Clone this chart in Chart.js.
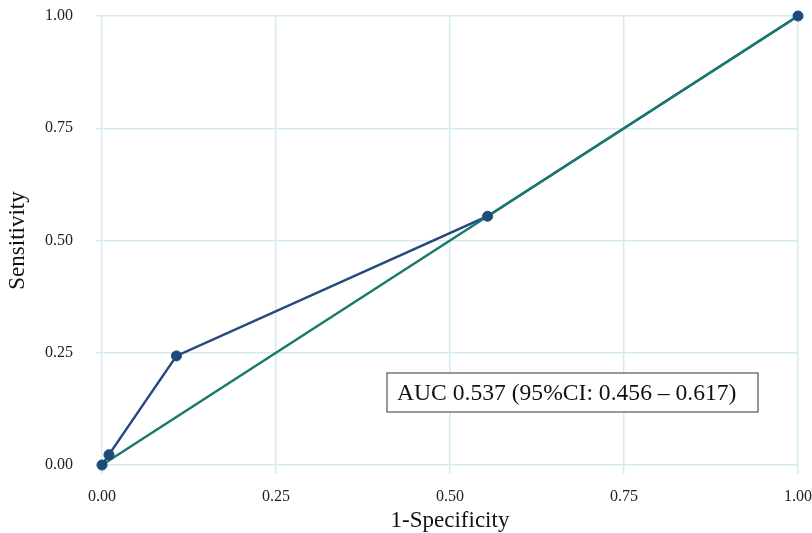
<!DOCTYPE html>
<html><head><meta charset="utf-8">
<script src="https://cdn.jsdelivr.net/npm/chart.js@4"></script>
<style>html,body{margin:0;padding:0;background:#fff}#wrap{width:812px;height:533px}</style>
</head><body><div id="wrap"><canvas id="c" width="812" height="533"></canvas></div>
<script>
const fpr = [0, 0.01, 0.107, 0.554, 1];
const tpr = [0, 0.023, 0.243, 0.554, 1];
const diagX = [0, 1];
const diagY = [0, 1];
const tickValues = [0, 0.25, 0.5, 0.75, 1];
const xTitle = '1-Specificity';
const yTitle = 'Sensitivity';
const aucText = 'AUC 0.537 (95%CI: 0.456 \u2013 0.617)';

const gridColor = '#d3ebf0';
const serif = "'Liberation Serif', 'DejaVu Serif', serif";

const aucBox = {
  id: 'aucBox',
  afterDatasetsDraw(chart) {
    const {ctx} = chart;
    const x = 387, y = 373, w = 371, h = 39;
    ctx.save();
    ctx.fillStyle = '#fff';
    ctx.fillRect(x, y, w, h);
    ctx.strokeStyle = '#555';
    ctx.lineWidth = 1.2;
    ctx.strokeRect(x, y, w, h);
    ctx.fillStyle = '#111';
    ctx.font = "23.6px " + serif;
    ctx.textBaseline = 'middle';
    ctx.textAlign = 'left';
    ctx.fillText(aucText, x + 10, y + h / 2 + 1);
    ctx.restore();
  }
};

const rocPoints = fpr.map((v, i) => ({x: v, y: tpr[i]}));
const noPad = s => { s.paddingTop = 0; s.paddingBottom = 0; s.paddingLeft = 0; s.paddingRight = 0; };

new Chart(document.getElementById('c'), {
  type: 'scatter',
  data: {
    datasets: [
      {
        label: 'ROC line',
        data: rocPoints,
        showLine: true,
        borderColor: '#24487f',
        borderWidth: 2.5,
        pointRadius: 0,
        clip: false,
        order: 3
      },
      {
        label: 'Reference',
        data: diagX.map((v, i) => ({x: v, y: diagY[i]})),
        showLine: true,
        borderColor: '#177a6c',
        borderWidth: 2.5,
        pointRadius: 0,
        clip: false,
        order: 2
      },
      {
        label: 'ROC points',
        data: rocPoints,
        showLine: false,
        backgroundColor: '#1d4a78',
        pointBackgroundColor: '#1d4a78',
        pointBorderColor: '#1d4a78',
        pointRadius: 5,
        clip: false,
        order: 1
      }
    ]
  },
  options: {
    responsive: false,
    animation: false,
    layout: {padding: {top: 16, right: 14, left: 0, bottom: 0}},
    plugins: {legend: {display: false}, tooltip: {enabled: false}},
    scales: {
      x: {
        type: 'linear', min: 0, max: 1,
        afterBuildTicks(s) { s.ticks = tickValues.map(v => ({value: v})); },
        afterFit(s) { s.height = 68; noPad(s); },
        grid: {color: gridColor, lineWidth: 1.5, tickLength: 9, tickColor: gridColor},
        border: {display: false},
        ticks: {padding: 13, color: '#222', font: {family: serif, size: 16}, callback: v => v.toFixed(2), maxRotation: 0},
        title: {display: true, text: xTitle, color: '#111', font: {family: serif, size: 23}, padding: {top: 0, bottom: -2}}
      },
      y: {
        type: 'linear', min: 0, max: 1,
        afterBuildTicks(s) { s.ticks = tickValues.map(v => ({value: v})); },
        afterFit(s) { s.width = 102; noPad(s); },
        grid: {color: gridColor, lineWidth: 1.5, tickLength: 6, tickColor: gridColor},
        border: {display: false},
        ticks: {padding: 23, color: '#222', font: {family: serif, size: 16}, callback: v => v.toFixed(2)},
        title: {display: true, text: yTitle, color: '#111', font: {family: serif, size: 23}, padding: {top: 4, bottom: 0}}
      }
    }
  },
  plugins: [aucBox]
});
</script></body></html>
